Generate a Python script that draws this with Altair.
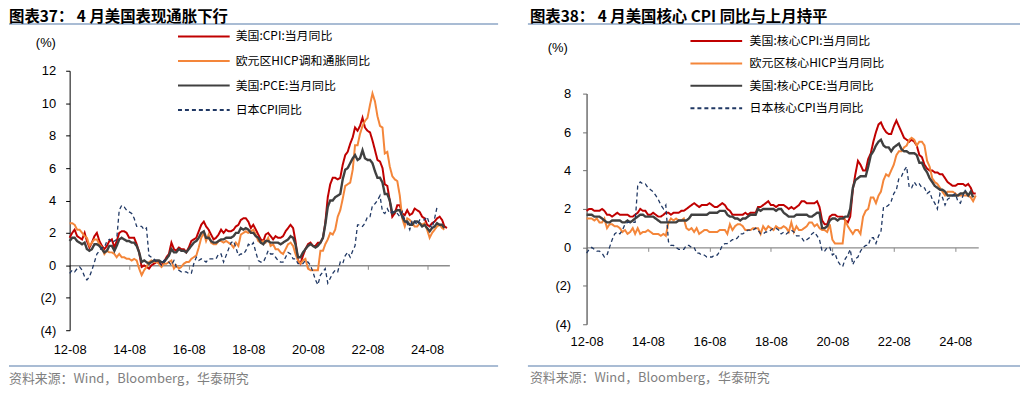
import altair as alt
import pandas as pd

START = "2012-08-01"
x_tick_years = [2012, 2014, 2016, 2018, 2020, 2022, 2024]

# ---------------- Left panel (图表37) ----------------
us_cpi = [1.7, 2.0, 2.2, 1.8, 1.7,
          1.6, 2.0, 1.5, 1.1, 1.4, 1.8, 2.0, 1.5, 1.2, 1.0, 1.2, 1.5,
          1.6, 1.1, 1.5, 2.0, 2.1, 2.1, 2.0, 1.7, 1.7, 1.7, 1.3, 0.8,
          -0.1, 0.0, -0.1, -0.2, 0.0, 0.1, 0.2, 0.2, 0.0, 0.2, 0.5, 0.7,
          1.4, 1.0, 0.9, 1.1, 1.0, 1.0, 0.8, 1.1, 1.5, 1.6, 1.7, 2.1,
          2.5, 2.7, 2.4, 2.2, 1.9, 1.6, 1.7, 1.9, 2.2, 2.0, 2.2, 2.1,
          2.1, 2.2, 2.4, 2.5, 2.8, 2.9, 2.9, 2.7, 2.3, 2.5, 2.2, 1.9,
          1.6, 1.5, 1.9, 2.0, 1.8, 1.6, 1.8, 1.7, 1.7, 1.8, 2.1, 2.3,
          2.5, 2.3, 1.5, 0.3, 0.1, 0.6, 1.0, 1.3, 1.4, 1.2, 1.2, 1.4,
          1.4, 1.7, 2.6, 4.2, 5.0, 5.4, 5.4, 5.3, 5.4, 6.2, 6.8, 7.0,
          7.5, 7.9, 8.5, 8.3, 8.6, 9.1, 8.5, 8.3, 8.2, 7.7, 7.1, 6.5,
          6.4, 6.0, 5.0, 4.9, 4.0, 3.0, 3.2, 3.7, 3.7, 3.2, 3.1, 3.4,
          3.1, 3.2, 3.5, 3.4, 3.3, 3.0, 2.9, 2.5, 2.4, 2.6, 2.7, 2.9,
          3.0, 2.8, 2.4, 2.3]
ea_hicp = [2.6, 2.6, 2.5, 2.2, 2.2,
           2.0, 1.8, 1.7, 1.2, 1.4, 1.6, 1.6, 1.3, 1.1, 0.7, 0.9, 0.8,
           0.8, 0.7, 0.5, 0.7, 0.5, 0.5, 0.4, 0.4, 0.3, 0.4, 0.3, -0.2,
           -0.6, -0.3, -0.1, 0.2, 0.3, 0.2, 0.2, 0.1, -0.1, 0.1, 0.1, 0.2,
           0.3, -0.2, 0.0, -0.2, -0.1, 0.1, 0.2, 0.2, 0.4, 0.5, 0.6, 1.1,
           1.7, 2.0, 1.5, 1.9, 1.4, 1.3, 1.3, 1.5, 1.5, 1.4, 1.5, 1.4,
           1.3, 1.1, 1.4, 1.2, 1.9, 2.0, 2.1, 2.0, 2.1, 2.2, 1.9, 1.5,
           1.4, 1.5, 1.4, 1.7, 1.2, 1.3, 1.0, 1.0, 0.8, 0.7, 1.0, 1.3,
           1.4, 1.2, 0.7, 0.3, 0.1, 0.3, 0.4, -0.2, -0.3, -0.3, -0.3, -0.3,
           0.9, 0.9, 1.3, 1.6, 2.0, 1.9, 2.2, 3.0, 3.4, 4.1, 4.9, 5.0,
           5.1, 5.9, 7.4, 7.4, 8.1, 8.6, 8.9, 9.1, 9.9, 10.6, 10.1, 9.2,
           8.6, 8.5, 6.9, 7.0, 6.1, 5.5, 5.3, 5.2, 4.3, 2.9, 2.4, 2.9,
           2.8, 2.6, 2.4, 2.4, 2.6, 2.5, 2.6, 2.2, 1.7, 2.0, 2.2, 2.4,
           2.5, 2.3, 2.2]
us_pce = [1.5, 1.7, 1.7, 1.5, 1.4,
          1.3, 1.4, 1.0, 0.9, 1.0, 1.3, 1.3, 1.2, 1.0, 0.8, 0.9, 1.2,
          1.2, 0.9, 1.2, 1.6, 1.7, 1.6, 1.5, 1.5, 1.4, 1.4, 1.2, 0.8,
          0.2, 0.3, 0.2, 0.1, 0.2, 0.3, 0.3, 0.3, 0.2, 0.2, 0.4, 0.6,
          1.0, 0.8, 0.8, 1.0, 0.9, 0.9, 0.8, 1.0, 1.2, 1.4, 1.5, 1.7,
          2.0, 2.1, 1.7, 1.7, 1.5, 1.4, 1.4, 1.5, 1.6, 1.6, 1.7, 1.7,
          1.7, 1.8, 2.0, 2.0, 2.3, 2.2, 2.3, 2.2, 2.0, 2.0, 1.8, 1.7,
          1.4, 1.3, 1.5, 1.5, 1.4, 1.4, 1.4, 1.4, 1.3, 1.4, 1.5, 1.6,
          1.8, 1.7, 1.3, 0.5, 0.5, 0.8, 1.0, 1.2, 1.3, 1.2, 1.1, 1.2,
          1.4, 1.7, 2.5, 3.6, 4.0, 4.0, 4.2, 4.3, 4.4, 5.3, 5.9, 6.0,
          6.3, 6.6, 6.8, 6.5, 6.6, 7.1, 6.6, 6.5, 6.5, 6.3, 5.8, 5.4,
          5.4, 5.1, 4.4, 4.4, 4.0, 3.2, 3.3, 3.4, 3.4, 3.0, 2.7, 2.7,
          2.5, 2.5, 2.7, 2.7, 2.6, 2.4, 2.5, 2.3, 2.1, 2.3, 2.4, 2.6,
          2.5, 2.5, 2.3]
jp_cpi = [-0.5, -0.3, -0.4, -0.2, -0.1,
          -0.3, -0.7, -0.9, -0.7, -0.3, 0.2, 0.7, 0.9, 1.1, 1.1, 1.5, 1.6,
          1.4, 1.5, 1.6, 3.4, 3.7, 3.6, 3.4, 3.3, 3.2, 2.9, 2.4, 2.4,
          2.4, 2.2, 2.3, 0.6, 0.5, 0.4, 0.2, 0.2, 0.0, 0.3, 0.3, 0.2,
          0.0, 0.3, -0.1, -0.3, -0.4, -0.4, -0.4, -0.5, -0.5, 0.1, 0.5, 0.3,
          0.4, 0.3, 0.2, 0.4, 0.4, 0.4, 0.4, 0.7, 0.7, 0.2, 0.6, 1.0,
          1.4, 1.5, 1.1, 0.6, 0.7, 0.7, 0.9, 1.3, 1.2, 1.4, 0.8, 0.3,
          0.2, 0.2, 0.5, 0.9, 0.7, 0.7, 0.5, 0.3, 0.2, 0.2, 0.5, 0.8,
          0.7, 0.4, 0.4, 0.1, 0.1, 0.1, 0.3, 0.2, 0.0, -0.4, -0.9, -1.2,
          -0.6, -0.4, -0.2, -1.1, -0.8, -0.5, -0.3, -0.4, 0.2, 0.1, 0.6, 0.8,
          0.5, 0.9, 1.2, 2.5, 2.5, 2.4, 2.6, 3.0, 3.0, 3.7, 3.8, 4.0,
          4.3, 3.3, 3.2, 3.5, 3.2, 3.3, 3.3, 3.2, 3.0, 3.3, 2.8, 2.6,
          2.2, 2.8, 2.7, 2.5, 2.8, 2.8, 2.8, 3.0, 2.5, 2.3, 2.9, 3.6]

# ---------------- Right panel (图表38) ----------------
us_core_cpi = [1.9, 2.0, 2.0, 1.9, 1.9,
               1.9, 2.0, 1.9, 1.7, 1.7, 1.6, 1.7, 1.8, 1.7, 1.7, 1.7, 1.7,
               1.6, 1.6, 1.7, 1.8, 2.0, 1.9, 1.9, 1.7, 1.7, 1.8, 1.7, 1.6,
               1.6, 1.7, 1.8, 1.8, 1.7, 1.8, 1.8, 1.8, 1.9, 1.9, 2.0, 2.1,
               2.2, 2.3, 2.2, 2.1, 2.2, 2.2, 2.2, 2.3, 2.2, 2.1, 2.1, 2.2,
               2.3, 2.2, 2.0, 1.9, 1.7, 1.7, 1.7, 1.7, 1.7, 1.8, 1.7, 1.8,
               1.8, 1.8, 2.1, 2.1, 2.2, 2.3, 2.4, 2.2, 2.2, 2.1, 2.2, 2.2,
               2.2, 2.1, 2.0, 2.1, 2.0, 2.1, 2.2, 2.4, 2.4, 2.3, 2.3, 2.3,
               2.3, 2.4, 2.1, 1.4, 1.2, 1.2, 1.6, 1.7, 1.7, 1.6, 1.6, 1.6,
               1.4, 1.3, 1.6, 3.0, 3.8, 4.5, 4.3, 4.0, 4.0, 4.6, 4.9, 5.5,
               6.0, 6.4, 6.5, 6.2, 6.0, 5.9, 5.9, 6.3, 6.6, 6.3, 6.0, 5.7,
               5.6, 5.5, 5.6, 5.5, 5.3, 4.8, 4.7, 4.3, 4.1, 4.0, 4.0, 3.9,
               3.9, 3.8, 3.8, 3.6, 3.4, 3.3, 3.2, 3.2, 3.3, 3.3, 3.3, 3.2,
               3.3, 3.1, 2.8, 2.8]
ea_core_hicp = [1.5, 1.5, 1.5, 1.4, 1.5,
                1.3, 1.3, 1.5, 1.0, 1.2, 1.2, 1.1, 1.1, 1.0, 0.8, 0.9, 0.7,
                0.8, 1.0, 0.7, 1.0, 0.7, 0.8, 0.8, 0.9, 0.8, 0.7, 0.7, 0.7,
                0.6, 0.7, 0.6, 1.3, 1.5, 1.4, 1.5, 1.4, 1.4, 1.5, 1.0, 0.9,
                1.0, 0.8, 1.0, 0.7, 0.8, 0.9, 0.9, 0.8, 0.8, 0.8, 0.8, 0.9,
                0.9, 0.9, 0.7, 1.2, 0.9, 1.1, 1.2, 1.2, 1.1, 0.9, 0.9, 0.9,
                1.0, 1.0, 1.0, 0.7, 1.1, 0.9, 1.1, 1.0, 0.9, 1.1, 1.0, 1.0,
                1.1, 1.0, 0.8, 1.3, 0.8, 1.1, 0.9, 0.9, 1.0, 1.1, 1.3, 1.3,
                1.1, 1.2, 1.0, 0.9, 0.9, 0.8, 1.2, 0.4, 0.2, 0.2, 0.2, 0.2,
                1.4, 1.1, 0.9, 0.7, 0.9, 0.9, 0.7, 1.6, 1.9, 2.0, 2.6, 2.6,
                2.3, 2.7, 2.9, 3.5, 3.8, 3.7, 4.0, 4.3, 4.8, 5.0, 5.0, 5.2,
                5.3, 5.6, 5.7, 5.6, 5.3, 5.5, 5.5, 5.3, 4.5, 4.2, 3.6, 3.4,
                3.3, 3.1, 2.9, 2.7, 2.9, 2.9, 2.9, 2.8, 2.7, 2.7, 2.7, 2.7,
                2.7, 2.6, 2.4, 2.7]
us_core_pce = [1.7, 1.7, 1.7, 1.6, 1.6,
               1.6, 1.5, 1.4, 1.3, 1.3, 1.4, 1.4, 1.4, 1.4, 1.3, 1.3, 1.4,
               1.3, 1.4, 1.5, 1.6, 1.7, 1.7, 1.6, 1.6, 1.6, 1.6, 1.5, 1.4,
               1.3, 1.3, 1.3, 1.3, 1.3, 1.3, 1.3, 1.4, 1.4, 1.4, 1.4, 1.5,
               1.7, 1.7, 1.7, 1.7, 1.7, 1.7, 1.7, 1.8, 1.8, 1.8, 1.8, 1.9,
               1.9, 1.9, 1.7, 1.6, 1.6, 1.5, 1.5, 1.4, 1.5, 1.5, 1.6, 1.7,
               1.7, 1.7, 2.0, 1.9, 2.0, 2.0, 2.0, 2.0, 2.0, 1.9, 2.0, 2.0,
               1.8, 1.7, 1.6, 1.6, 1.6, 1.7, 1.7, 1.7, 1.7, 1.7, 1.6, 1.6,
               1.7, 1.8, 1.8, 1.0, 1.0, 1.1, 1.4, 1.5, 1.5, 1.4, 1.5, 1.5,
               1.6, 1.6, 2.0, 3.1, 3.5, 3.6, 3.7, 3.7, 3.7, 4.2, 4.8, 5.0,
               5.3, 5.5, 5.6, 5.3, 5.2, 5.2, 5.0, 5.2, 5.3, 5.4, 5.1, 5.0,
               5.0, 4.9, 4.9, 4.9, 4.8, 4.4, 4.4, 4.1, 3.9, 3.6, 3.4, 3.2,
               3.1, 3.0, 3.0, 2.9, 2.7, 2.7, 2.7, 2.7, 2.7, 2.8, 2.8, 2.9,
               2.7, 2.9, 2.6]
jp_core_cpi = [-0.3, -0.1, 0.0, -0.1, -0.2,
               -0.2, -0.3, -0.5, -0.4, 0.0, 0.4, 0.7, 0.8, 0.7, 0.9, 1.2, 1.3,
               1.3, 1.3, 1.3, 3.2, 3.4, 3.3, 3.3, 3.1, 3.0, 2.9, 2.7, 2.5,
               2.2, 2.0, 2.2, 0.3, 0.1, 0.1, 0.0, -0.1, -0.1, -0.1, 0.1, 0.1,
               0.0, 0.0, -0.3, -0.3, -0.4, -0.4, -0.5, -0.5, -0.5, -0.4, -0.4, -0.2,
               0.1, 0.2, 0.2, 0.3, 0.4, 0.4, 0.5, 0.7, 0.7, 0.8, 0.9, 0.9,
               0.9, 1.0, 0.9, 0.7, 0.7, 0.8, 0.8, 0.9, 1.0, 1.0, 0.9, 0.7,
               0.8, 0.7, 0.8, 0.9, 0.8, 0.6, 0.6, 0.5, 0.3, 0.4, 0.5, 0.7,
               0.8, 0.6, 0.4, -0.2, -0.2, 0.0, 0.0, -0.4, -0.3, -0.7, -0.9, -1.0,
               -0.6, -0.4, -0.1, -0.9, -0.6, -0.5, -0.2, 0.0, 0.1, 0.1, 0.5, 0.5,
               0.2, 0.6, 0.8, 2.1, 2.1, 2.2, 2.4, 2.8, 3.0, 3.6, 3.7, 4.0,
               4.2, 3.1, 3.1, 3.4, 3.2, 3.3, 3.1, 3.1, 2.8, 2.9, 2.5, 2.3,
               2.0, 2.8, 2.6, 2.2, 2.5, 2.6, 2.7, 2.8, 2.4, 2.3, 2.7, 3.0]

left_labels = ["美国:CPI:当月同比", "欧元区HICP调和通胀同比", "美国:PCE:当月同比", "日本CPI同比"]
right_labels = ["美国:核心CPI:当月同比", "欧元区核心HICP当月同比", "美国:核心PCE:当月同比", "日本核心CPI当月同比"]
left_title = "图表37： 4 月美国表现通胀下行"
right_title = "图表38： 4 月美国核心\u00a0CPI\u00a0同比与上月持平"
source_text = "资料来源：Wind，Bloomberg，华泰研究"
left_yticks = [-4, -2, 0, 2, 4, 6, 8, 10, 12]
right_yticks = [-4, -2, 0, 2, 4, 6, 8]

colors = ["#C00000", "#F4863A", "#404040", "#203864"]
widths = [2.0, 2.0, 2.4, 1.3]
dashes = [[1, 0], [1, 0], [1, 0], [4, 3]]
RULE_COLOR = "#A9BCD4"
CJK = "Noto Sans CJK SC"
LAT = "Liberation Sans"


def panel(series, labels, title_text, ydomain, yrange, yticks, W, H, g):
    frames = []
    for vals, lab in zip(series, labels):
        frames.append(pd.DataFrame({
            "date": pd.date_range(START, periods=len(vals), freq="MS").strftime("%Y-%m-%d"),
            "value": vals,
            "series": lab,
        }))
    df = pd.concat(frames, ignore_index=True)

    xscale = alt.Scale(type="utc", domain=[alt.DateTime(year=2012, month=8, date=1, utc=True),
                                           alt.DateTime(year=2025, month=5, date=1, utc=True)])
    yscale = alt.Scale(domain=ydomain, range=yrange, nice=False, zero=False)
    tickvals = [alt.DateTime(year=y, month=8, date=1, utc=True) for y in x_tick_years]

    label_axis = alt.Axis(values=tickvals, labelExpr="utcFormat(datum.value, '%y-%m')",
                          domain=False, ticks=False, tickSize=0, grid=False, title=None,
                          orient="bottom", labelPadding=g["xlabpad"], labelFont=LAT,
                          labelFontSize=13, labelColor="black", labelFlush=False,
                          labelOverlap=False)
    zero_axis = alt.Axis(values=tickvals, labels=False, domain=True, domainColor="#8C8C8C",
                         domainWidth=1.5, ticks=True, tickColor="#8C8C8C", tickSize=4,
                         tickWidth=1, grid=False, title=None, orient="bottom",
                         offset=-g["zero_off"])
    yaxis = alt.Axis(values=yticks,
                     labelExpr="datum.value < 0 ? '(' + abs(datum.value) + ')' : datum.label",
                     domainColor=g["ycolor"], domainWidth=g["ywidth"], tickColor=g["ycolor"],
                     tickSize=4, tickWidth=1, labelPadding=g["ylabpad"], labelFont=LAT,
                     labelFontSize=13, labelColor="black", grid=False, title=None,
                     labelOverlap=False)
    legend = alt.Legend(orient="none", legendX=g["legx"], legendY=g["legy"], title=None,
                        symbolType="M-5.2,0H5.2", symbolSize=100, symbolStrokeWidth=2,
                        labelFont=CJK, labelFontSize=12, labelColor="black",
                        labelOffset=g["laboff"], rowPadding=g["rowpad"], padding=0,
                        labelLimit=400)

    layers = []
    for i, lab in enumerate(labels):
        ax = label_axis if i == 0 else (zero_axis if i == 1 else None)
        layers.append(
            alt.Chart(df).transform_filter(alt.datum.series == lab)
            .mark_line(strokeWidth=widths[i])
            .encode(
                x=alt.X("date:T", scale=xscale, axis=ax, title=None),
                y=alt.Y("value:Q", scale=yscale, axis=yaxis, title=None),
                color=alt.Color("series:N", scale=alt.Scale(domain=labels, range=colors), legend=legend),
                strokeDash=alt.StrokeDash("series:N", scale=alt.Scale(domain=labels, range=dashes), legend=legend),
            )
        )

    one = pd.DataFrame({"k": [0]})
    spacer = alt.Chart(one).mark_rule(strokeOpacity=0, strokeWidth=0).encode(
        x=alt.value(g["rule_x0"] + 2), x2=alt.value(g["rule_x0"] + 3), y=alt.value(-62))
    title = alt.Chart(pd.DataFrame({"t": [title_text]})).mark_text(
        align="left", baseline="top", font=CJK, fontSize=15.5, fontWeight="bold", color="black"
    ).encode(x=alt.value(g["title_x"]), y=alt.value(-61), text="t:N")
    underline = alt.Chart(one).mark_rule(color=RULE_COLOR, strokeWidth=2).encode(
        x=alt.value(g["rule_x0"]), x2=alt.value(g["rule_x1"]), y=alt.value(-47))
    pct = alt.Chart(pd.DataFrame({"t": ["(%)"]})).mark_text(
        align="left", baseline="middle", font=LAT, fontSize=13, color="black"
    ).encode(x=alt.value(g["pct_x"]), y=alt.value(g["pct_y"]), text="t:N")
    srcline = alt.Chart(one).mark_rule(color=RULE_COLOR, strokeWidth=2).encode(
        x=alt.value(g["rule_x0"]), x2=alt.value(g["rule_x1"]), y=alt.value(297))
    src = alt.Chart(pd.DataFrame({"t": [source_text]})).mark_text(
        align="left", baseline="middle", font=CJK, fontSize=13, color="#7F7F7F"
    ).encode(x=alt.value(g["src_x"]), y=alt.value(g["src_y"]), text="t:N")

    return alt.layer(*layers, spacer, underline, title, pct, srcline, src).resolve_axis(
        x="independent").properties(width=W, height=H)


# both plot areas start at page y=70; right panel's data area is 93..325
left_geom = dict(xlabpad=13, zero_off=65.25, ycolor="black", ywidth=1, ylabpad=10,
                 legx=129, legy=-40.5, laboff=26, rowpad=12.7,
                 title_x=-61, rule_x0=-61, rule_x1=431,
                 pct_x=-34, pct_y=-28, src_x=-61, src_y=310)
right_geom = dict(xlabpad=11, zero_off=77.33, ycolor="#6E6E6E", ywidth=1.5, ylabpad=12,
                  legx=124.5, legy=-36, laboff=27.5, rowpad=10.6,
                  title_x=-57, rule_x0=-59, rule_x1=436,
                  pct_x=-39, pct_y=-23, src_x=-57, src_y=309)

left = panel([us_cpi, ea_hicp, us_pce, jp_cpi], left_labels, left_title,
             [-4, 12], [261, 0], left_yticks, 382, 261, left_geom)
right = panel([us_core_cpi, ea_core_hicp, us_core_pce, jp_core_cpi], right_labels, right_title,
              [-4, 8], [255, 23], right_yticks, 394, 255, right_geom)

chart = alt.hconcat(left, right, spacing=28).resolve_scale(
    color="independent", strokeDash="independent"
).properties(padding=0, background="white").configure_view(strokeWidth=0)

chart.save("out.html", embed_options={"renderer": "svg", "actions": False})
